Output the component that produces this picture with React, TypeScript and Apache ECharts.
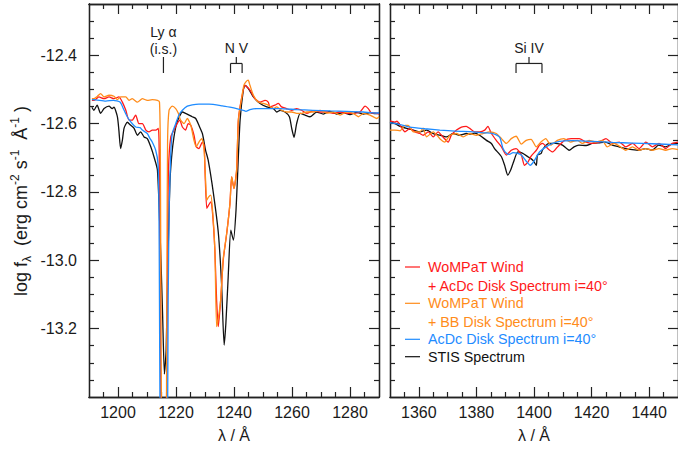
import React, { useEffect, useRef } from "react";
import * as echarts from "echarts";

// ---------- axis ranges & ticks ----------
const LEFT_MIN = 1190;
const LEFT_MAX = 1290;
const RIGHT_MIN = 1350;
const RIGHT_MAX = 1450;
const Y_MIN = -13.4;
const Y_MAX = -12.25;

const X_LEFT_MAJOR = [1200, 1220, 1240, 1260, 1280];
const X_LEFT_MINOR = [1195, 1205, 1210, 1215, 1225, 1230, 1235, 1245, 1250, 1255, 1265, 1270, 1275, 1285];
const X_RIGHT_MAJOR = [1360, 1380, 1400, 1420, 1440];
const X_RIGHT_MINOR = [1355, 1365, 1370, 1375, 1385, 1390, 1395, 1405, 1410, 1415, 1425, 1430, 1435, 1445];
const Y_MAJOR = [-13.2, -13.0, -12.8, -12.6, -12.4];
const Y_MINOR = [-13.35, -13.3, -13.25, -13.15, -13.1, -13.05, -12.95, -12.9, -12.85, -12.75, -12.7, -12.65, -12.55, -12.5, -12.45, -12.35, -12.3];

// ---------- line identifications ----------
const LYA = 1215.67;
const NV = [1238.8, 1242.8];
const SIIV = [1393.76, 1402.77];

// ---------- series names / colours ----------
const NAMES = [
  ["WoMPaT Wind", "+ AcDc Disk Spectrum i=40°"],
  ["WoMPaT Wind", "+ BB Disk Spectrum i=40°"],
  ["AcDc Disk Spectrum i=40°"],
  ["STIS Spectrum"],
];
const COLORS = ["#ff1a1a", "#ff8c1a", "#1f8cff", "#111111"];

// ---------- data: [wavelength (Å), log f] ----------
const stisLeft = [
  [1191.0, -12.552], [1191.7, -12.561], [1192.8, -12.546], [1194.0, -12.570], [1195.2, -12.556],
  [1196.9, -12.549], [1198.0, -12.556], [1198.6, -12.552], [1199.8, -12.580], [1200.3, -12.619],
  [1200.9, -12.673], [1201.5, -12.649], [1202.1, -12.613], [1203.2, -12.596], [1204.4, -12.605],
  [1205.5, -12.613], [1206.7, -12.634], [1207.8, -12.624], [1209.0, -12.639], [1210.1, -12.644],
  [1211.3, -12.668], [1212.4, -12.697], [1213.6, -12.736], [1214.7, -12.970], [1215.4, -13.165],
  [1216.0, -13.333], [1216.6, -13.263], [1217.3, -12.970], [1217.9, -12.774], [1218.5, -12.697],
  [1219.3, -12.639], [1220.4, -12.595], [1222.2, -12.566], [1223.3, -12.570], [1224.5, -12.575],
  [1225.6, -12.580], [1226.8, -12.585], [1227.9, -12.605], [1229.1, -12.629], [1230.2, -12.678],
  [1231.1, -12.707], [1232.9, -12.804], [1234.6, -12.920], [1235.7, -13.067], [1236.6, -13.248],
  [1237.2, -13.184], [1238.0, -13.048], [1238.9, -12.912], [1239.8, -12.941], [1240.7, -12.853],
  [1241.5, -12.697], [1242.1, -12.590], [1243.2, -12.502], [1243.8, -12.488], [1244.9, -12.497],
  [1246.7, -12.522], [1249.0, -12.541], [1251.3, -12.551], [1253.6, -12.556], [1254.7, -12.566],
  [1255.9, -12.561], [1257.6, -12.566], [1259.1, -12.580], [1259.9, -12.614], [1260.7, -12.640],
  [1261.6, -12.600], [1262.8, -12.570], [1264.5, -12.575], [1266.2, -12.580], [1268.5, -12.566],
  [1270.8, -12.572], [1273.1, -12.564], [1275.4, -12.572], [1277.7, -12.568], [1280.0, -12.574],
  [1282.3, -12.567], [1284.6, -12.572], [1286.9, -12.568], [1288.6, -12.571], [1290.0, -12.569],
];

const redLeft = [
  [1191.0, -12.532], [1191.7, -12.532], [1193.4, -12.522], [1195.2, -12.527], [1196.9, -12.522],
  [1198.6, -12.527], [1200.3, -12.522], [1201.5, -12.537], [1202.7, -12.561], [1203.8, -12.590],
  [1204.9, -12.590], [1206.1, -12.575], [1207.2, -12.600], [1208.4, -12.600], [1209.6, -12.619],
  [1210.7, -12.624], [1211.8, -12.619], [1213.0, -12.619], [1213.9, -12.614], [1214.2, -12.678],
  [1214.6, -13.116], [1214.8, -13.467], [1215.5, -13.8], [1216.3, -13.8], [1216.7, -13.467],
  [1217.1, -12.970], [1217.4, -12.736], [1218.2, -12.639], [1219.3, -12.619], [1220.4, -12.600],
  [1221.3, -12.590], [1222.2, -12.610], [1223.3, -12.619], [1224.2, -12.600], [1225.1, -12.605],
  [1226.2, -12.634], [1227.0, -12.668], [1227.9, -12.673], [1229.1, -12.654], [1229.7, -12.663],
  [1230.0, -12.736], [1230.6, -12.848], [1231.2, -12.839], [1232.0, -12.829], [1232.6, -12.862],
  [1233.4, -12.970], [1234.0, -13.116], [1234.6, -13.194], [1235.4, -13.116], [1236.3, -12.999],
  [1237.5, -12.920], [1238.6, -12.834], [1239.2, -12.756], [1240.0, -12.790], [1240.9, -12.736],
  [1241.5, -12.590], [1242.7, -12.522], [1243.8, -12.488], [1245.5, -12.502], [1247.2, -12.527],
  [1249.0, -12.537], [1250.7, -12.532], [1251.8, -12.537], [1252.4, -12.551], [1254.1, -12.546],
  [1255.3, -12.541], [1256.4, -12.551], [1258.1, -12.556], [1259.9, -12.561], [1261.6, -12.556],
  [1263.3, -12.561], [1265.1, -12.570], [1267.3, -12.563], [1269.7, -12.566], [1272.0, -12.566],
  [1274.2, -12.570], [1276.6, -12.566], [1278.9, -12.570], [1281.1, -12.570], [1283.4, -12.566],
  [1285.2, -12.549], [1286.3, -12.556], [1287.5, -12.570], [1288.6, -12.569], [1290.0, -12.572],
];

const orangeLeft = [
  [1191.0, -12.527], [1191.7, -12.527], [1192.9, -12.520], [1194.0, -12.512], [1195.2, -12.522],
  [1196.9, -12.517], [1198.6, -12.520], [1199.8, -12.530], [1200.9, -12.522], [1202.7, -12.522],
  [1203.8, -12.532], [1204.9, -12.527], [1206.7, -12.537], [1208.4, -12.527], [1210.1, -12.532],
  [1211.8, -12.530], [1213.6, -12.532], [1214.3, -12.537], [1214.6, -12.678], [1214.8, -13.116],
  [1215.0, -13.467], [1215.5, -13.8], [1216.3, -13.8], [1216.7, -13.467], [1216.9, -12.970],
  [1217.1, -12.649], [1217.6, -12.561], [1218.7, -12.549], [1219.9, -12.556], [1220.8, -12.570],
  [1221.6, -12.590], [1222.8, -12.600], [1223.9, -12.585], [1225.1, -12.605], [1226.2, -12.649],
  [1227.0, -12.668], [1227.9, -12.654], [1228.9, -12.644], [1229.7, -12.678], [1230.2, -12.766],
  [1230.6, -12.824], [1231.2, -12.815], [1232.0, -12.809], [1232.6, -12.853], [1233.4, -12.970],
  [1234.0, -13.194], [1234.5, -13.175], [1235.4, -13.116], [1236.3, -12.994], [1237.5, -12.920],
  [1238.6, -12.834], [1239.2, -12.756], [1240.0, -12.790], [1240.9, -12.736], [1241.5, -12.590],
  [1242.7, -12.522], [1243.4, -12.488], [1244.1, -12.478], [1244.9, -12.473], [1245.5, -12.488],
  [1246.7, -12.517], [1248.4, -12.537], [1250.1, -12.541], [1251.8, -12.546], [1253.6, -12.556],
  [1254.7, -12.551], [1256.4, -12.561], [1258.1, -12.566], [1259.9, -12.566], [1261.6, -12.570],
  [1263.3, -12.570], [1265.1, -12.566], [1267.3, -12.566], [1269.7, -12.561], [1272.0, -12.569],
  [1274.2, -12.566], [1276.6, -12.575], [1278.9, -12.566], [1281.1, -12.570], [1282.9, -12.580],
  [1284.6, -12.570], [1286.9, -12.575], [1289.2, -12.585], [1290.0, -12.580],
];

const blueLeft = [
  [1191.0, -12.530], [1191.5, -12.530], [1195.8, -12.534], [1198.4, -12.532], [1200.7, -12.537],
  [1202.1, -12.561], [1203.2, -12.580], [1204.4, -12.595], [1206.1, -12.610], [1207.6, -12.612],
  [1208.4, -12.619], [1210.1, -12.629], [1211.0, -12.643], [1211.8, -12.654], [1213.0, -12.678],
  [1213.8, -12.717], [1214.1, -12.824], [1214.3, -13.116], [1214.5, -13.467], [1215.0, -13.9],
  [1216.5, -13.9], [1217.1, -13.467], [1217.3, -13.116], [1217.7, -12.824], [1218.2, -12.687],
  [1218.7, -12.629], [1219.9, -12.600], [1221.0, -12.575], [1222.2, -12.561], [1223.9, -12.549],
  [1225.6, -12.545], [1227.9, -12.543], [1231.4, -12.543], [1236.0, -12.548], [1238.6, -12.552],
  [1240.9, -12.556], [1243.2, -12.561], [1244.1, -12.564], [1245.5, -12.559], [1247.8, -12.556],
  [1252.4, -12.556], [1255.9, -12.556], [1261.6, -12.559], [1267.2, -12.561], [1273.1, -12.563],
  [1278.9, -12.564], [1284.6, -12.566], [1288.6, -12.569], [1290.0, -12.569],
];

const stisRight = [
  [1350.0, -12.594], [1350.3, -12.595], [1351.7, -12.600], [1353.5, -12.608], [1355.8, -12.614],
  [1358.1, -12.619], [1360.4, -12.624], [1362.7, -12.619], [1365.0, -12.629], [1367.3, -12.634],
  [1369.6, -12.639], [1371.9, -12.629], [1374.2, -12.634], [1376.5, -12.629], [1377.7, -12.631],
  [1379.4, -12.628], [1381.1, -12.634], [1383.5, -12.649], [1385.2, -12.658], [1386.3, -12.673],
  [1388.7, -12.697], [1389.8, -12.722], [1390.9, -12.751], [1391.9, -12.736], [1392.7, -12.717],
  [1394.4, -12.683], [1396.1, -12.687], [1397.9, -12.697], [1399.6, -12.707], [1400.8, -12.722],
  [1401.2, -12.692], [1402.5, -12.687], [1402.9, -12.678], [1404.2, -12.663], [1405.3, -12.658],
  [1407.5, -12.658], [1409.9, -12.663], [1412.2, -12.678], [1413.9, -12.668], [1415.6, -12.663],
  [1418.1, -12.664], [1420.2, -12.658], [1422.6, -12.656], [1424.8, -12.654], [1427.2, -12.663],
  [1429.5, -12.668], [1431.8, -12.673], [1434.1, -12.676], [1436.4, -12.678], [1438.7, -12.673],
  [1441.0, -12.678], [1443.3, -12.663], [1445.6, -12.668], [1447.9, -12.660], [1450.0, -12.658],
];

const redRight = [
  [1350.0, -12.593], [1350.3, -12.593], [1351.7, -12.596], [1352.4, -12.593], [1353.5, -12.605],
  [1355.2, -12.624], [1356.9, -12.614], [1358.7, -12.624], [1360.4, -12.629], [1361.5, -12.634],
  [1363.3, -12.624], [1365.0, -12.639], [1366.7, -12.624], [1368.4, -12.639], [1370.2, -12.654],
  [1371.3, -12.634], [1373.1, -12.619], [1374.8, -12.610], [1376.5, -12.608], [1377.7, -12.614],
  [1379.4, -12.624], [1381.1, -12.624], [1382.9, -12.619], [1384.0, -12.608], [1385.2, -12.629],
  [1386.9, -12.649], [1388.7, -12.668], [1390.4, -12.692], [1392.1, -12.678], [1393.8, -12.673],
  [1395.6, -12.692], [1396.7, -12.722], [1397.9, -12.713], [1399.0, -12.695], [1400.8, -12.678],
  [1401.9, -12.663], [1403.0, -12.658], [1404.8, -12.673], [1406.5, -12.683], [1408.2, -12.668],
  [1410.6, -12.649], [1412.9, -12.644], [1415.7, -12.644], [1418.1, -12.654], [1420.3, -12.658],
  [1422.7, -12.654], [1425.0, -12.644], [1427.3, -12.658], [1429.6, -12.654], [1431.9, -12.668],
  [1434.2, -12.658], [1436.5, -12.673], [1438.8, -12.654], [1441.1, -12.668], [1443.4, -12.658],
  [1445.7, -12.673], [1448.0, -12.658], [1450.0, -12.654],
];

const orangeRight = [
  [1350.0, -12.619], [1350.3, -12.619], [1351.7, -12.619], [1353.5, -12.621], [1355.2, -12.605],
  [1356.3, -12.605], [1358.1, -12.624], [1360.4, -12.624], [1361.5, -12.613], [1362.7, -12.639],
  [1365.0, -12.624], [1367.3, -12.644], [1369.0, -12.654], [1370.8, -12.634], [1373.1, -12.629],
  [1375.4, -12.639], [1377.7, -12.629], [1380.0, -12.634], [1382.3, -12.629], [1384.6, -12.624],
  [1386.9, -12.629], [1388.7, -12.644], [1390.4, -12.658], [1392.1, -12.644], [1393.8, -12.637],
  [1395.6, -12.660], [1397.3, -12.649], [1399.0, -12.646], [1400.8, -12.668], [1402.4, -12.654],
  [1404.1, -12.644], [1405.8, -12.663], [1408.1, -12.649], [1410.4, -12.644], [1412.7, -12.654],
  [1415.1, -12.649], [1416.8, -12.658], [1419.1, -12.649], [1421.4, -12.654], [1423.7, -12.649],
  [1425.4, -12.668], [1427.8, -12.658], [1430.0, -12.668], [1431.8, -12.678], [1434.2, -12.668],
  [1436.5, -12.678], [1438.8, -12.673], [1441.1, -12.678], [1443.4, -12.673], [1445.7, -12.678],
  [1448.0, -12.673], [1450.0, -12.676],
];

const blueRight = [
  [1350.0, -12.597], [1350.3, -12.598], [1351.7, -12.599], [1356.9, -12.610], [1362.1, -12.615],
  [1367.3, -12.619], [1372.5, -12.622], [1378.8, -12.624], [1382.9, -12.627], [1385.7, -12.629],
  [1388.1, -12.640], [1389.2, -12.672], [1390.4, -12.687], [1391.5, -12.690], [1392.7, -12.685],
  [1394.3, -12.687], [1395.6, -12.692], [1397.3, -12.710], [1398.7, -12.722], [1399.5, -12.716],
  [1400.2, -12.707], [1401.9, -12.683], [1404.2, -12.668], [1406.5, -12.658], [1408.8, -12.652],
  [1413.4, -12.650], [1420.3, -12.652], [1427.3, -12.655], [1434.2, -12.657], [1441.1, -12.659],
  [1450.0, -12.662],
];

const FONT = "'Liberation Sans', Arial, Helvetica, sans-serif";
const AXIS_COLOR = "#222";
const TEXT_COLOR = "#1a1a1a";

function xAxes(gridIndex: number, min: number, max: number, major: number[], minor: number[]) {
  const base = {
    type: "value",
    gridIndex,
    min,
    max,
    splitLine: { show: false },
    axisLine: { show: true, onZero: false, lineStyle: { color: AXIS_COLOR, width: 1.3 } },
  };
  return [
    {
      ...base,
      position: "bottom",
      name: "λ / Å",
      nameLocation: "middle",
      nameGap: 30,
      nameTextStyle: { fontFamily: FONT, fontSize: 16, color: TEXT_COLOR },
      axisTick: { show: true, inside: true, length: 10, customValues: major, lineStyle: { color: AXIS_COLOR, width: 1.2 } },
      axisLabel: {
        show: true,
        customValues: major,
        margin: 7,
        fontFamily: FONT,
        fontSize: 16,
        color: TEXT_COLOR,
        formatter: (v: number) => String(Math.round(v)),
      },
    },
    {
      ...base,
      position: "bottom",
      axisTick: { show: true, inside: true, length: 5, customValues: minor, lineStyle: { color: AXIS_COLOR, width: 1.2 } },
      axisLabel: { show: false },
    },
    {
      ...base,
      position: "top",
      axisTick: { show: true, inside: true, length: 10, customValues: major, lineStyle: { color: AXIS_COLOR, width: 1.2 } },
      axisLabel: { show: false },
    },
    {
      ...base,
      position: "top",
      axisTick: { show: true, inside: true, length: 5, customValues: minor, lineStyle: { color: AXIS_COLOR, width: 1.2 } },
      axisLabel: { show: false },
    },
  ];
}

function yAxes(gridIndex: number, labels: boolean) {
  const base = {
    type: "value",
    gridIndex,
    min: Y_MIN,
    max: Y_MAX,
    splitLine: { show: false },
    axisLine: { show: true, onZero: false, lineStyle: { color: AXIS_COLOR, width: 1.3 } },
  };
  return [
    {
      ...base,
      position: "left",
      axisTick: { show: true, inside: true, length: 10, customValues: Y_MAJOR, lineStyle: { color: AXIS_COLOR, width: 1.2 } },
      axisLabel: {
        show: labels,
        customValues: Y_MAJOR,
        margin: 12,
        fontFamily: FONT,
        fontSize: 16,
        color: TEXT_COLOR,
        formatter: (v: number) => v.toFixed(1),
      },
    },
    {
      ...base,
      position: "left",
      axisTick: { show: true, inside: true, length: 5, customValues: Y_MINOR, lineStyle: { color: AXIS_COLOR, width: 1.2 } },
      axisLabel: { show: false },
    },
    {
      ...base,
      position: "right",
      axisTick: { show: true, inside: true, length: 10, customValues: Y_MAJOR, lineStyle: { color: AXIS_COLOR, width: 1.2 } },
      axisLabel: { show: false },
    },
    {
      ...base,
      position: "right",
      axisTick: { show: true, inside: true, length: 5, customValues: Y_MINOR, lineStyle: { color: AXIS_COLOR, width: 1.2 } },
      axisLabel: { show: false },
    },
  ];
}

function lineSeries(name: string, data: number[][], color: string, axisIndex: number) {
  return {
    type: "line",
    name,
    data,
    xAxisIndex: axisIndex,
    yAxisIndex: axisIndex,
    showSymbol: false,
    symbol: "none",
    smooth: 0.2,
    clip: true,
    lineStyle: { color, width: 1.3 },
    emphasis: { disabled: true },
  };
}

export default function App() {
  const ref = useRef<HTMLDivElement>(null);

  useEffect(() => {
    if (!ref.current) return;
    const chart = echarts.init(ref.current, null, { renderer: "svg" });

    const option: any = {
      animation: false,
      backgroundColor: "#ffffff",
      grid: [
        { left: 89, top: 4, width: 290, height: 393 },
        { left: 390, top: 4, width: 290, height: 393 },
      ],
      xAxis: [
        ...xAxes(0, LEFT_MIN, LEFT_MAX, X_LEFT_MAJOR, X_LEFT_MINOR),
        ...xAxes(1, RIGHT_MIN, RIGHT_MAX, X_RIGHT_MAJOR, X_RIGHT_MINOR),
      ],
      yAxis: [...yAxes(0, true), ...yAxes(1, false)],
      series: [
        lineSeries("STIS Spectrum", stisLeft, COLORS[3], 0),
        lineSeries("WoMPaT Wind + AcDc Disk", redLeft, COLORS[0], 0),
        lineSeries("WoMPaT Wind + BB Disk", orangeLeft, COLORS[1], 0),
        lineSeries("AcDc Disk Spectrum", blueLeft, COLORS[2], 0),
        lineSeries("STIS Spectrum", stisRight, COLORS[3], 4),
        lineSeries("WoMPaT Wind + AcDc Disk", redRight, COLORS[0], 4),
        lineSeries("WoMPaT Wind + BB Disk", orangeRight, COLORS[1], 4),
        lineSeries("AcDc Disk Spectrum", blueRight, COLORS[2], 4),
      ],
    };
    chart.setOption(option);

    const toPx = (axis: number, x: number, y: number) =>
      chart.convertToPixel({ xAxisIndex: axis, yAxisIndex: axis }, [x, y]) as number[];

    const lineStyle = { stroke: "#222", lineWidth: 1.2 };
    const annText = (x: number, y: number, text: string) => ({
      type: "text",
      x,
      y,
      style: { text, fontFamily: FONT, fontSize: 14, fill: TEXT_COLOR, align: "center", verticalAlign: "middle" },
    });
    const seg = (p1: number[], p2: number[]) => ({
      type: "line",
      shape: { x1: p1[0], y1: p1[1], x2: p2[0], y2: p2[1] },
      style: lineStyle,
    });

    // y-levels of annotations (data units)
    const yTop = -12.405;
    const yMid = -12.424;
    const yBot = -12.452;

    const graphics: any[] = [];
    // Ly alpha
    const lyTop = toPx(0, LYA, yTop);
    const lyBot = toPx(0, LYA, yBot);
    graphics.push(seg(lyTop, lyBot));
    graphics.push(annText(lyTop[0], 32, "Ly α"));
    graphics.push(annText(lyTop[0], 49, "(i.s.)"));

    const bracket = (axis: number, pair: number[], label: string) => {
      const a = toPx(axis, pair[0], yMid);
      const b = toPx(axis, pair[1], yMid);
      const aB = toPx(axis, pair[0], yBot);
      const bB = toPx(axis, pair[1], yBot);
      const cx = (a[0] + b[0]) / 2;
      const top = toPx(axis, pair[0], yTop);
      graphics.push(seg([a[0], a[1]], [b[0], b[1]]));
      graphics.push(seg(a, aB));
      graphics.push(seg(b, bB));
      graphics.push(seg([cx, top[1]], [cx, a[1]]));
      graphics.push(annText(cx, 48, label));
    };
    bracket(0, NV, "N V");
    bracket(4, SIIV, "Si IV");

    // legend (drawn in the right panel)
    const legendRows = [267, 303.3, 339.3, 356.7];
    NAMES.forEach((lines, i) => {
      const y0 = legendRows[i];
      graphics.push({
        type: "line",
        shape: { x1: 405, y1: y0, x2: 420, y2: y0 },
        style: { stroke: COLORS[i], lineWidth: 1.2 },
      });
      lines.forEach((t, j) => {
        graphics.push({
          type: "text",
          x: 428,
          y: y0 + j * 18.5,
          style: { text: t, fontFamily: FONT, fontSize: 14.3, fill: COLORS[i], align: "left", verticalAlign: "middle" },
        });
      });
    });

    // y-axis title (rotated, with sub/superscripts)
    graphics.push({
      type: "text",
      x: 21,
      y: 201,
      rotation: Math.PI / 2,
      style: {
        text: "{n|log f}{sub|λ}{n|  (erg cm}{sup|-2}{n| s}{sup|-1}{n|  Å}{sup|-1}{n| )}",
        align: "center",
        verticalAlign: "middle",
        fill: TEXT_COLOR,
        rich: {
          n: { fontFamily: FONT, fontSize: 18, fill: TEXT_COLOR, lineHeight: 24, verticalAlign: "middle" },
          sub: { fontFamily: FONT, fontSize: 12, fill: TEXT_COLOR, lineHeight: 12, verticalAlign: "bottom" },
          sup: { fontFamily: FONT, fontSize: 12, fill: TEXT_COLOR, lineHeight: 12, verticalAlign: "top" },
        },
      },
    });

    chart.setOption({ graphic: graphics });

    return () => chart.dispose();
  }, []);

  return (
    <div
      ref={ref}
      style={{ position: "absolute", left: 0, top: 0, width: 678, height: 450, background: "#fff" }}
    />
  );
}
